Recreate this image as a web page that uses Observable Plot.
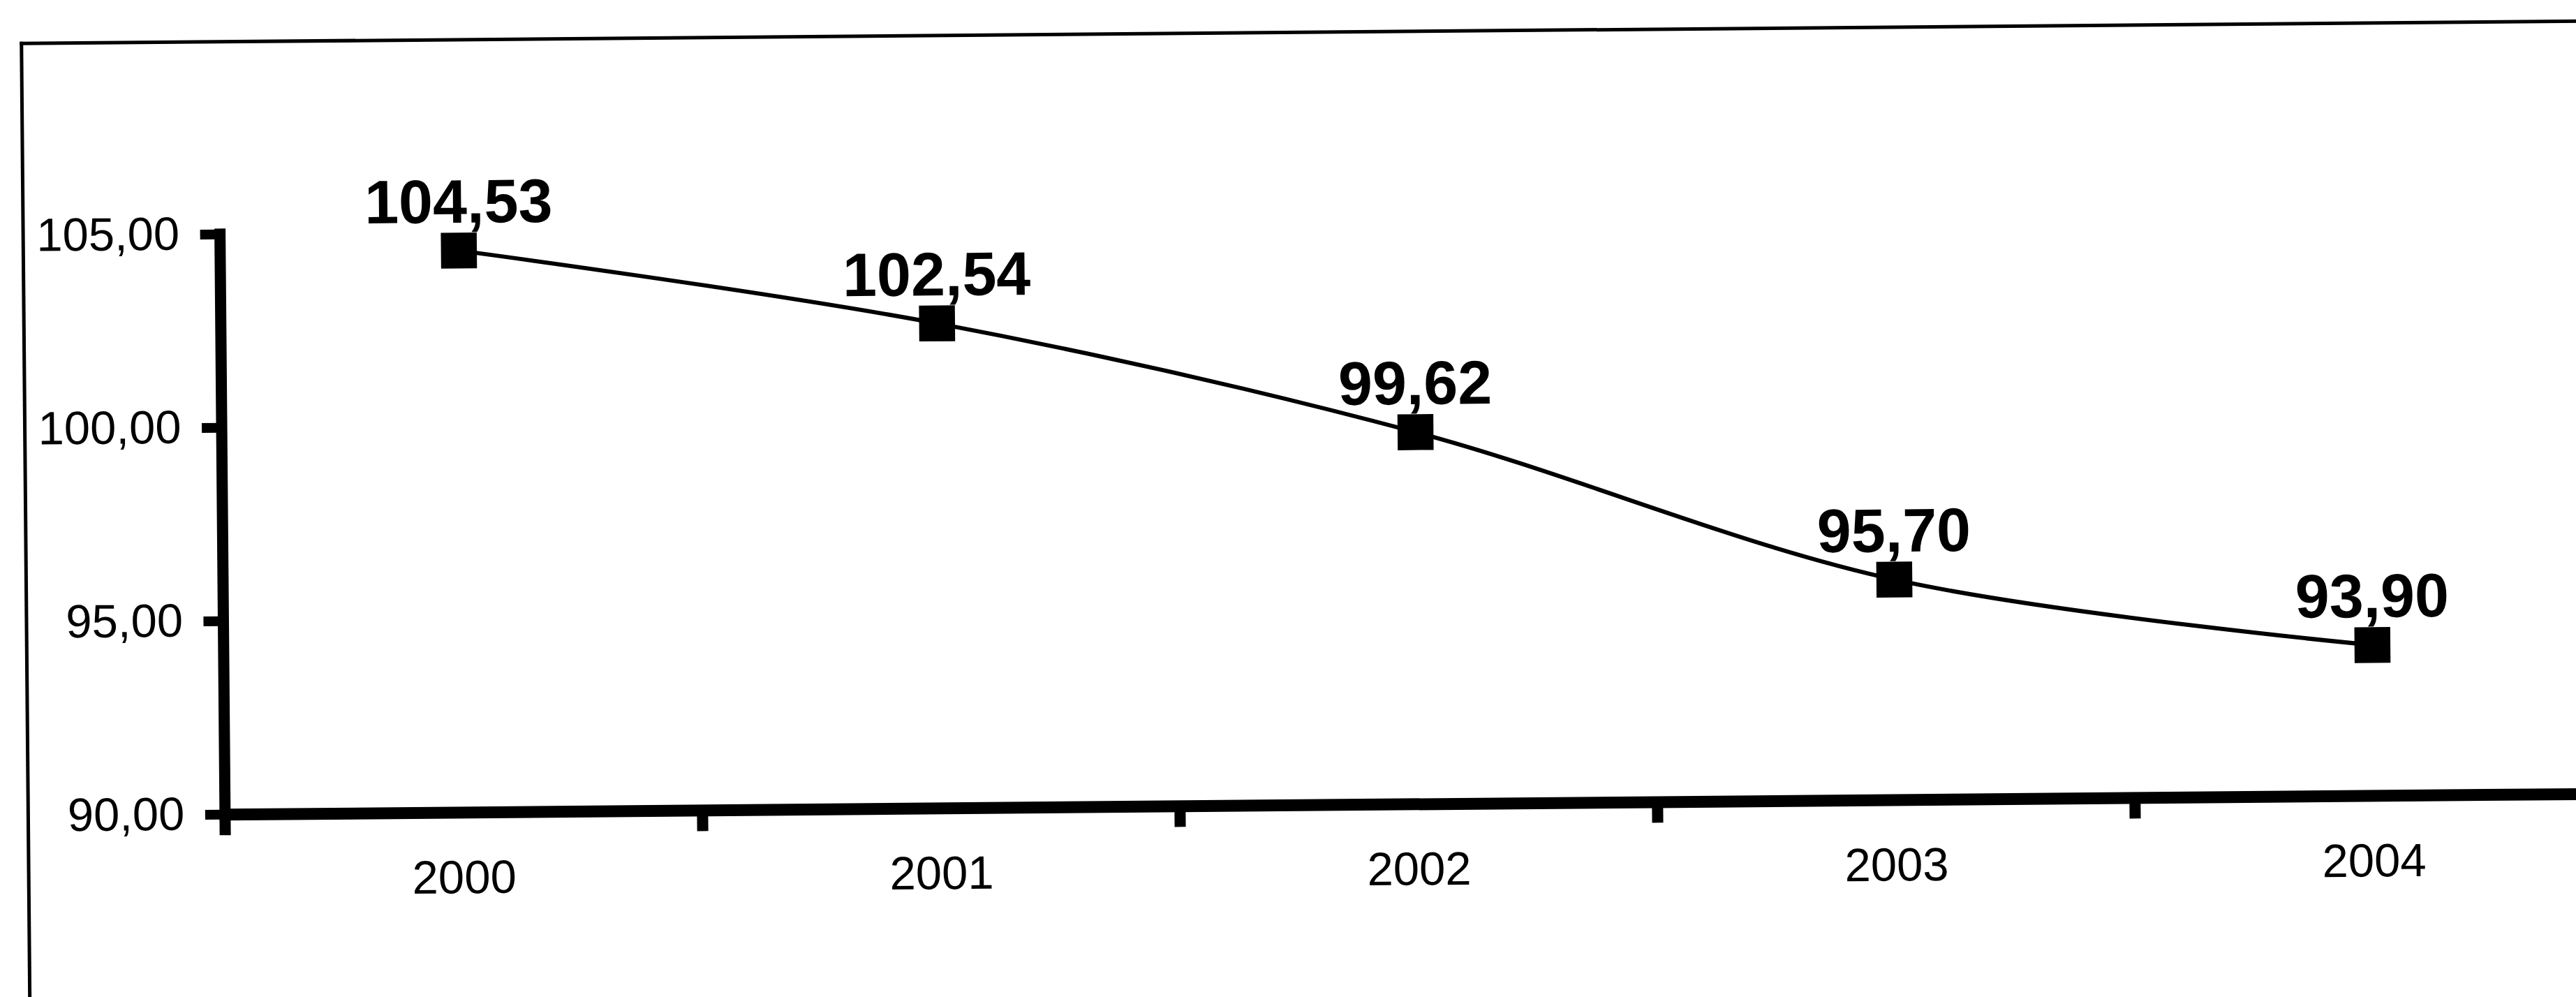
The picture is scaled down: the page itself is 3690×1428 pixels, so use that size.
<!DOCTYPE html>
<html>
<head>
<meta charset="utf-8">
<script src="https://cdn.jsdelivr.net/npm/d3@7"></script>
<script src="https://cdn.jsdelivr.net/npm/@observablehq/plot@0.6"></script>
<style>
  html, body { margin: 0; padding: 0; background: #fff; overflow: hidden; width: 3690px; height: 1428px; }
  #wrap { position: absolute; left: 0; top: 0; width: 3690px; height: 1428px; transform: rotate(-0.5deg); transform-origin: 1845px 714px; }
  #frame { position: absolute; left: 34px; top: 44px; width: 3800px; height: 1600px; border-left: 5px solid #000; border-top: 5px solid #000; }
  #chart { position: absolute; left: 0; top: 0; }
</style>
</head>
<body>
<div id="wrap"><div id="frame"></div><div id="chart"></div></div>
<script>
const years = [2000, 2001, 2002, 2003, 2004];
const values = [104.53, 102.54, 99.62, 95.70, 93.90];
const yTicks = [90, 95, 100, 105];
const bandEdges = [1999.5, 2000.5, 2001.5, 2002.5, 2003.5, 2004.5];

const data = years.map((year, i) => ({year, value: values[i]}));
const fmt = d => d.toFixed(2).replace(".", ",");

const chart = Plot.plot({
  width: 3690,
  height: 1428,
  marginLeft: 318,
  marginRight: 0,
  marginTop: 322,
  marginBottom: 275,
  x: {type: "linear", domain: [1999.5, 2004.5], range: [318, 3738], axis: null, label: null},
  y: {domain: [90, 105], axis: null, label: null},
  style: {
    fontFamily: "'Liberation Sans', Arial, sans-serif",
    fontSize: "67px",
    color: "#000",
    background: "transparent",
    overflow: "visible"
  },
  marks: [
    Plot.ruleY([90], {strokeWidth: 17, stroke: "#000"}),
    Plot.ruleX([1999.5], {y1: 90, y2: 105, strokeWidth: 16, stroke: "#000", strokeLinecap: "square"}),
    Plot.axisY({ticks: yTicks, tickSize: 28, tickPadding: 30, tickFormat: fmt, strokeWidth: 14, fontSize: 67, label: null}),
    Plot.axisX({ticks: bandEdges, tickSize: 30, tickFormat: () => "", strokeWidth: 16, label: null}),
    Plot.axisX({ticks: years, tickSize: 0, tickPadding: 68, tickFormat: d => String(d), fontSize: 67, label: null}),
    Plot.line(data, {x: "year", y: "value", curve: "catmull-rom", strokeWidth: 6, stroke: "#000"}),
    Plot.dot(data, {x: "year", y: "value", symbol: "square", r: 29, fill: "#000", stroke: "none"}),
    Plot.text(data, {x: "year", y: "value", text: d => fmt(d.value), dy: -40, lineAnchor: "bottom", fontSize: 88, fontWeight: "bold", fill: "#000"})
  ]
});
document.getElementById("chart").appendChild(chart);
</script>
</body>
</html>
